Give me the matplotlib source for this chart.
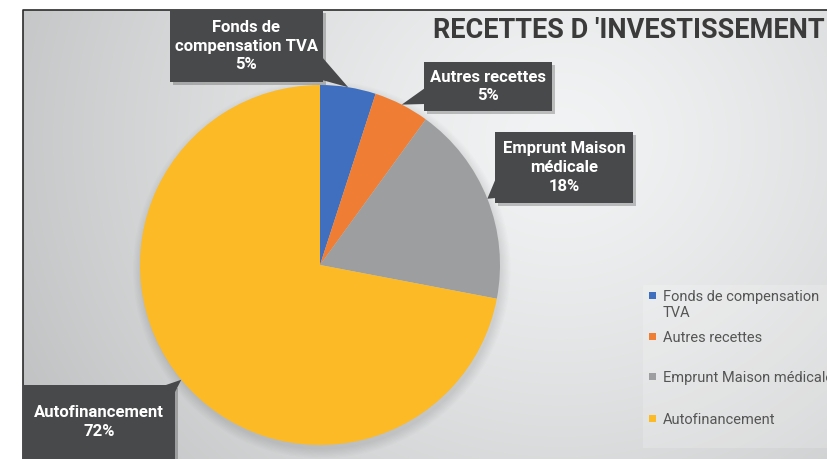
import numpy as np
import matplotlib.pyplot as plt
from matplotlib.patches import Polygon, Rectangle, Circle

categories = ['Fonds de compensation TVA', 'Autres recettes',
              'Emprunt Maison médicale', 'Autofinancement']
callout_labels = ['Fonds de\ncompensation TVA', 'Autres recettes',
                  'Emprunt Maison\nmédicale', 'Autofinancement']
legend_labels = ['Fonds de compensation\nTVA', 'Autres recettes',
                 'Emprunt Maison médicale', 'Autofinancement']
shares = [5, 5, 18, 72]
colors = ['#3f6fbe', '#ef7d33', '#9d9e9f', '#fcba26']
title = "RECETTES D 'INVESTISSEMENT"

W, H = 827, 459
narrow = ['Roboto', 'DejaVu Sans']

fig = plt.figure(figsize=(W / 100, H / 100), dpi=100)
fig.patch.set_facecolor('white')

# background with radial gradient, pixel coordinates
bg = fig.add_axes([0, 0, 1, 1])
bg.set_xlim(0, W)
bg.set_ylim(H, 0)
bg.axis('off')
yy, xx = np.mgrid[0:H, 0:W]
d = np.sqrt(((xx - 560) / 620.0) ** 2 + ((yy - 140) / 560.0) ** 2)
v = np.clip(0.955 - 0.2 * d ** 1.3, 0, 1)
img = np.dstack([v - 0.005, v, v + 0.003])
img = np.clip(img, 0, 1)
bg.imshow(img[10:, 23:], extent=[23, W, H, 10], aspect='auto', zorder=0)
bg.plot([23, 23, W], [H, 10, 10], color='#2b2b2b', lw=1.2, zorder=1)

# pie
axp = fig.add_axes([140 / W, (H - 445) / H, 360 / W, 360 / H])
axp.set_xlim(-1, 1)
axp.set_ylim(-1, 1)
axp.axis('off')
for k in range(8):
    axp.add_patch(Circle((0.01, -0.025), 1.0 + 0.007 * k, color='black',
                         alpha=0.012, lw=0, clip_on=False, zorder=0))
wedges, _ = axp.pie(shares, colors=colors, startangle=90, counterclock=False,
                    radius=1, wedgeprops=dict(linewidth=0))
axp.set_xlim(-1, 1)
axp.set_ylim(-1, 1)

# overlay in pixel coordinates
ov = fig.add_axes([0, 0, 1, 1])
ov.set_xlim(0, W)
ov.set_ylim(H, 0)
ov.axis('off')
ov.patch.set_alpha(0)

ov.text(433, 31, title, fontsize=19.5, fontweight='bold', color='#3b3b3b',
        family=narrow, va='center', ha='left')

# callout boxes (x0, x1, y0, y1) and pointer base points
boxes = [(170, 323, 10, 82), (424, 552, 62, 111),
         (495, 633, 132, 203), (23, 175, 385, 470)]
bases = [[(322, 57), (322, 80)], [(425, 88), (425, 104)],
         [(496, 178), (496, 198)], [(163, 386), (174, 394)]]
box_col = '#48494b'

cum = np.cumsum([0] + shares)
total = float(sum(shares))
for i, lab in enumerate(callout_labels):
    mid = np.deg2rad(90 - (cum[i] + shares[i] / 2) / total * 360)
    tip_disp = axp.transData.transform((np.cos(mid), np.sin(mid)))
    tip = ov.transData.inverted().transform(tip_disp)
    x0, x1, y0, y1 = boxes[i]
    ov.add_patch(Rectangle((x0 + 3, y0 + 3), x1 - x0, y1 - y0, color='black',
                           alpha=0.22, lw=0, zorder=2))
    ov.add_patch(Rectangle((x0, y0), x1 - x0, y1 - y0, color=box_col, lw=0,
                           zorder=3))
    ov.add_patch(Polygon([bases[i][0], tuple(tip), bases[i][1]], closed=True,
                         color=box_col, lw=0, zorder=3))
    yc = (y0 + min(y1, H)) / 2
    ov.text((x0 + x1) / 2, yc, '%s\n%d%%' % (lab, shares[i]), color='white',
            fontsize=12, fontweight='bold', family=narrow, ha='center',
            va='center', linespacing=1.3, zorder=4)

# legend
ov.add_patch(Rectangle((643, 285), W - 643, 448 - 285, color='white',
                       alpha=0.18, lw=0, zorder=2))
leg_y = [296, 337, 377, 419]
for i, lab in enumerate(legend_labels):
    ov.add_patch(Rectangle((649, leg_y[i] - 4), 7, 7, color=colors[i], lw=0,
                           zorder=3))
    ov.text(663, leg_y[i] - 6, lab, fontsize=10.5, color='#555555',
            family=narrow, ha='left', va='top', linespacing=1.2, zorder=3)

fig.savefig('out.png', dpi=100)
